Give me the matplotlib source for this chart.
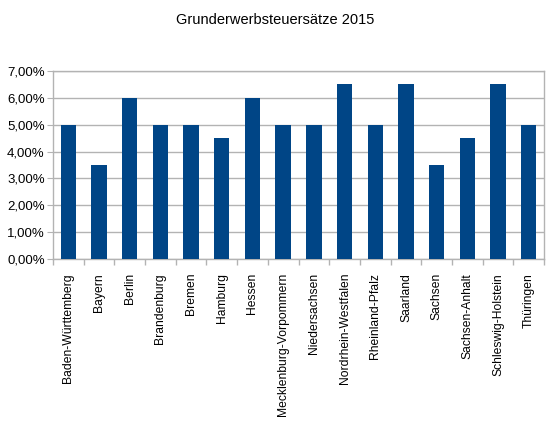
import matplotlib
matplotlib.use("Agg")
import matplotlib.pyplot as plt
import numpy as np
from matplotlib.ticker import FuncFormatter, MultipleLocator

# Grunderwerbsteuer rates per Bundesland, 2015 (percent)
laender = ["Baden-Württemberg", "Bayern", "Berlin", "Brandenburg", "Bremen",
           "Hamburg", "Hessen", "Mecklenburg-Vorpommern", "Niedersachsen",
           "Nordrhein-Westfalen", "Rheinland-Pfalz", "Saarland", "Sachsen",
           "Sachsen-Anhalt", "Schleswig-Holstein", "Thüringen"]
saetze = [5.0, 3.5, 6.0, 5.0, 5.0, 4.5, 6.0, 5.0, 5.0, 6.5, 5.0, 6.5, 3.5, 4.5, 6.5, 5.0]

plt.rcParams['font.family'] = ['Liberation Sans', 'DejaVu Sans']

fig = plt.figure(figsize=(5.5, 4.23), dpi=100)
ax = fig.add_axes([53/550, 1 - 259/423, (544-53)/550, (259-71)/423])

x = np.arange(len(laender))
ax.bar(x, saetze, width=0.5, color="#004586", zorder=3)

ax.set_xlim(-0.5, len(laender) - 0.5)
ax.set_ylim(0, 7)
ax.yaxis.set_major_locator(MultipleLocator(1))
ax.yaxis.set_major_formatter(FuncFormatter(lambda v, p: ("%.2f%%" % v).replace(".", ",")))
ax.grid(axis="y", color="#b3b3b3", linewidth=1, zorder=0)

ax.set_xticks(x)
ax.set_xticklabels(laender, rotation=90, fontsize=8.7)
ax.set_xticks(np.arange(-0.5, len(laender)), minor=True)
ax.tick_params(axis="x", which="major", length=0, pad=10)
ax.tick_params(axis="x", which="minor", length=4, color="#b3b3b3", width=1)
ax.tick_params(axis="y", length=4, color="#b3b3b3", labelsize=9.5, pad=2)

for s in ["top", "right", "left", "bottom"]:
    ax.spines[s].set_color("#b3b3b3")
    ax.spines[s].set_linewidth(1)

fig.text(0.5, 1 - 20/423, "Grunderwerbsteuersätze 2015", ha="center", va="center", fontsize=10.5)

fig.savefig("out.png", dpi=100)
